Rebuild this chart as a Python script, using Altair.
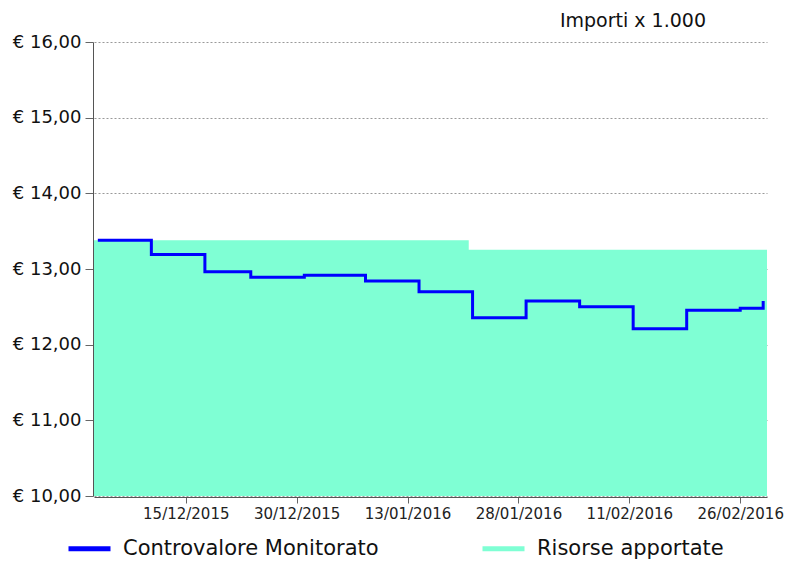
import altair as alt
import pandas as pd

# ---- data ----
line_dates = ["2015-12-03T12:00", "2015-12-10T12:00", "2015-12-17T12:00", "2015-12-23T12:00",
              "2015-12-30T12:00", "2016-01-07T12:00", "2016-01-14T12:00", "2016-01-21T12:00",
              "2016-01-28T12:00", "2016-02-04T12:00", "2016-02-11T12:00", "2016-02-18T12:00",
              "2016-02-25T12:00", "2016-02-28T12:00"]
line_values = [13.38, 13.19, 12.965, 12.89, 12.917, 12.842, 12.70, 12.357,
               12.577, 12.502, 12.211, 12.454, 12.481, 12.577]

area_dates = ["2015-12-03T00:00", "2016-01-21T00:00", "2016-02-29T00:00"]
area_values = [13.38, 13.255, 13.255]

series_names = ["Controvalore Monitorato", "Risorse apportate"]
series_colors = ["#0000FF", "#7FFFD4"]

x_domain = ["2015-12-03T00:00", "2016-02-29T00:00"]
x_ticks = ["2015-12-15T00:00", "2015-12-29T12:00", "2016-01-13T00:00",
           "2016-01-27T12:00", "2016-02-11T00:00", "2016-02-25T12:00"]
y_ticks = [10, 11, 12, 13, 14, 15, 16]


def dt(s):
    t = pd.Timestamp(s)
    return alt.DateTime(year=t.year, month=t.month, date=t.day, hours=t.hour, minutes=t.minute)


line_df = pd.DataFrame({"date": line_dates, "value": line_values, "series": series_names[0]})
area_df = pd.DataFrame({"date": area_dates, "value": area_values, "series": series_names[1]})

FONT = "DejaVu Sans"

x_enc = alt.X(
    "date:T",
    scale=alt.Scale(domain=[dt(d) for d in x_domain]),
    axis=alt.Axis(
        values=[dt(d) for d in x_ticks],
        labelExpr="timeFormat(toDate(time(datum.value) + 43200000), '%d/%m/%Y')",
        title=None, grid=False, labelFont=FONT, labelFontSize=15, labelColor="#222",
        tickSize=6, tickColor="#666", domainColor="#555", labelPadding=3,
        labelAngle=0, labelOverlap=False, offset=1,
    ),
)
y_scale = alt.Scale(domain=[10, 16], zero=False, nice=False)
y_axis = alt.Axis(
    values=y_ticks,
    labelExpr="'€ ' + replace(format(datum.value, '.2f'), '.', ',')",
    title=None, grid=True, gridDash=[2, 2], gridColor="#999", gridWidth=1,
    labelFont=FONT, labelFontSize=18, labelColor="#111", tickSize=8,
    tickColor="#666", domainColor="#555", labelPadding=4, offset=1,
)

area = alt.Chart(area_df).mark_area(
    interpolate="step-after", color=series_colors[1], clip=True
).encode(
    x=x_enc,
    y=alt.Y("value:Q", scale=y_scale, axis=y_axis),
)

line = alt.Chart(line_df).mark_line(interpolate="step-after", strokeWidth=3).encode(
    x=x_enc,
    y=alt.Y("value:Q", scale=y_scale, axis=y_axis),
    color=alt.Color(
        "series:N",
        scale=alt.Scale(domain=series_names, range=series_colors),
        legend=alt.Legend(
            title=None, orient="none", legendX=-28, legendY=483, direction="horizontal",
            symbolType="stroke", symbolSize=1764, symbolStrokeWidth=5,
            labelFont=FONT, labelFontSize=21, labelColor="#111", labelLimit=500,
            labelOffset=10, columnPadding=93, padding=0, zindex=2,
        ),
    ),
)

chart = alt.layer(area, line).properties(
    width=673,
    height=454,
    autosize="none",
    padding={"left": 86, "top": 34, "right": 20, "bottom": 64},
    title=alt.TitleParams(
        "Importi x 1.000", anchor="end", fontSize=19, font=FONT, fontWeight="normal",
        color="#111", dx=-61, offset=2, frame="group",
    ),
).configure_view(stroke=None)

chart.save("out.html", embed_options={"renderer": "svg", "actions": False})
